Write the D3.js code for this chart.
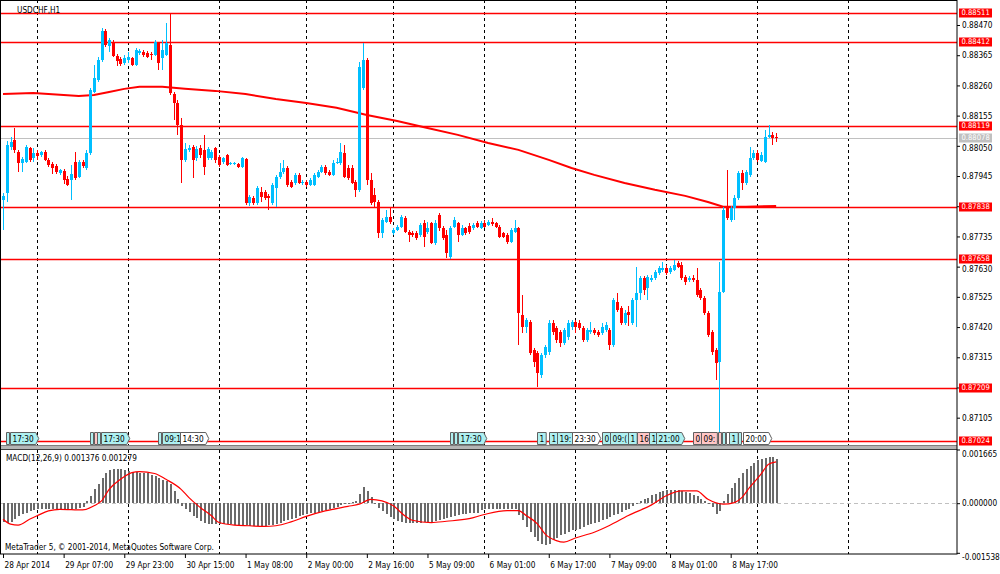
<!DOCTYPE html>
<html><head><meta charset="utf-8">
<script src="https://cdn.jsdelivr.net/npm/d3@7"></script>
<style>body{margin:0;background:#fff}svg{display:block;font-family:'DejaVu Sans Condensed','DejaVu Sans',sans-serif;font-stretch:condensed}</style>
</head><body><svg id="c" width="1000" height="574"></svg>
<script>
const symbolTitle = "USDCHF,H1";
const copyright = "MetaTrader 5, © 2001-2014, MetaQuotes Software Corp.";
const macdLabel = "MACD(12,26,9) 0.001376 0.001279";

const open = [0.87862,0.87886,0.88046,0.88070,0.88029,0.87990,0.87994,0.88042,0.88008,0.88025,
0.88018,0.88029,0.88001,0.87987,0.87980,0.87956,0.87963,0.87935,0.87931,0.87994,
0.87942,0.87994,0.87973,0.88025,0.88237,0.88279,0.88348,0.88449,0.88397,0.88411,
0.88362,0.88352,0.88338,0.88348,0.88355,0.88331,0.88373,0.88376,0.88373,0.88369,
0.88366,0.88408,0.88355,0.88366,0.88401,0.88230,0.88199,0.88123,0.88001,0.88036,
0.88046,0.88008,0.88042,0.88036,0.88008,0.88008,0.88042,0.88011,0.87994,0.88018,
0.87987,0.87987,0.87987,0.87976,0.88004,0.87851,0.87869,0.87851,0.87890,0.87890,
0.87876,0.87851,0.87904,0.87942,0.87959,0.87973,0.87924,0.87921,0.87949,0.87921,
0.87924,0.87914,0.87914,0.87942,0.87959,0.87976,0.87959,0.87949,0.87990,0.87990,
0.88025,0.87973,0.87973,0.87924,0.87897,0.88251,0.88348,0.87931,0.87879,0.87855,
0.87747,0.87785,0.87803,0.87747,0.87758,0.87768,0.87799,0.87751,0.87747,0.87747,
0.87740,0.87782,0.87751,0.87782,0.87712,0.87810,0.87764,0.87740,0.87664,0.87768,
0.87782,0.87740,0.87764,0.87771,0.87764,0.87782,0.87764,0.87782,0.87775,0.87785,
0.87782,0.87768,0.87747,0.87740,0.87716,0.87751,0.87764,0.87462,0.87420,0.87438,
0.87340,0.87330,0.87253,0.87323,0.87333,0.87434,0.87417,0.87403,0.87365,0.87386,
0.87420,0.87438,0.87434,0.87417,0.87375,0.87403,0.87410,0.87403,0.87399,0.87410,
0.87410,0.87358,0.87507,0.87486,0.87434,0.87473,0.87434,0.87514,0.87539,0.87591,
0.87556,0.87584,0.87591,0.87608,0.87619,0.87625,0.87612,0.87619,0.87643,0.87636,
0.87594,0.87584,0.87591,0.87584,0.87549,0.87521,0.87469,0.87403,0.87340,0.87299,
0.87542,0.87834,0.87792,0.87834,0.87869,0.87956,0.87921,0.87949,0.88008,0.88025,
0.87997,0.87994,0.88081,0.88088,0.88081];
const high = [0.87886,0.88067,0.88081,0.88112,0.88036,0.88011,0.88053,0.88046,0.88042,0.88036,
0.88032,0.88036,0.88008,0.87994,0.87987,0.87970,0.87970,0.87945,0.87983,0.88029,
0.88001,0.88001,0.88036,0.88251,0.88331,0.88359,0.88460,0.88456,0.88425,0.88418,
0.88369,0.88359,0.88366,0.88376,0.88359,0.88390,0.88387,0.88383,0.88380,0.88376,
0.88418,0.88411,0.88418,0.88477,0.88512,0.88237,0.88209,0.88147,0.88060,0.88053,
0.88053,0.88049,0.88053,0.88088,0.88046,0.88036,0.88046,0.88018,0.88011,0.88022,
0.87994,0.87994,0.87990,0.88011,0.88008,0.87879,0.87876,0.87910,0.87907,0.87897,
0.87883,0.87921,0.87949,0.87990,0.88001,0.87980,0.87931,0.87956,0.87956,0.87931,
0.87931,0.87938,0.87956,0.87966,0.87983,0.87983,0.87966,0.88001,0.88008,0.88060,
0.88053,0.87983,0.87983,0.87931,0.88341,0.88408,0.88355,0.87956,0.87904,0.87862,
0.87799,0.87827,0.87834,0.87764,0.87775,0.87810,0.87806,0.87758,0.87754,0.87754,
0.87782,0.87792,0.87785,0.87785,0.87792,0.87817,0.87771,0.87758,0.87771,0.87803,
0.87785,0.87775,0.87768,0.87782,0.87782,0.87789,0.87789,0.87792,0.87792,0.87799,
0.87785,0.87775,0.87751,0.87747,0.87764,0.87792,0.87768,0.87532,0.87452,0.87445,
0.87347,0.87337,0.87330,0.87358,0.87445,0.87445,0.87424,0.87410,0.87417,0.87445,
0.87445,0.87445,0.87445,0.87424,0.87417,0.87438,0.87417,0.87410,0.87434,0.87438,
0.87417,0.87521,0.87539,0.87493,0.87480,0.87493,0.87521,0.87629,0.87598,0.87598,
0.87601,0.87601,0.87619,0.87632,0.87646,0.87636,0.87632,0.87653,0.87650,0.87646,
0.87601,0.87598,0.87601,0.87625,0.87556,0.87528,0.87476,0.87410,0.87347,0.87646,
0.87838,0.87966,0.87841,0.87879,0.87963,0.87966,0.87966,0.88046,0.88036,0.88036,
0.88029,0.88105,0.88123,0.88098,0.88095];
const low = [0.87758,0.87855,0.88036,0.88025,0.87959,0.87959,0.87990,0.87994,0.87994,0.88001,
0.88011,0.87997,0.87976,0.87952,0.87952,0.87949,0.87917,0.87910,0.87862,0.87931,
0.87938,0.87973,0.87966,0.88018,0.88234,0.88272,0.88341,0.88394,0.88376,0.88359,
0.88328,0.88328,0.88331,0.88338,0.88328,0.88328,0.88366,0.88359,0.88355,0.88348,
0.88362,0.88314,0.88314,0.88362,0.88227,0.88140,0.88088,0.87921,0.87994,0.88029,
0.87938,0.87997,0.88008,0.87949,0.88001,0.88001,0.87990,0.87976,0.87987,0.87980,
0.87983,0.87983,0.87973,0.87973,0.87844,0.87841,0.87844,0.87844,0.87855,0.87862,
0.87827,0.87844,0.87838,0.87935,0.87952,0.87907,0.87904,0.87914,0.87917,0.87914,
0.87907,0.87910,0.87910,0.87938,0.87956,0.87949,0.87945,0.87945,0.87987,0.87983,
0.87938,0.87931,0.87917,0.87872,0.87890,0.88244,0.87914,0.87844,0.87838,0.87730,
0.87730,0.87782,0.87778,0.87740,0.87754,0.87764,0.87747,0.87716,0.87733,0.87723,
0.87733,0.87698,0.87744,0.87709,0.87705,0.87754,0.87723,0.87660,0.87657,0.87764,
0.87716,0.87737,0.87740,0.87744,0.87758,0.87764,0.87761,0.87764,0.87771,0.87771,
0.87764,0.87730,0.87730,0.87709,0.87712,0.87747,0.87358,0.87399,0.87399,0.87323,
0.87281,0.87212,0.87243,0.87313,0.87323,0.87393,0.87365,0.87351,0.87358,0.87375,
0.87410,0.87399,0.87410,0.87368,0.87368,0.87396,0.87393,0.87386,0.87393,0.87403,
0.87340,0.87351,0.87473,0.87427,0.87427,0.87424,0.87427,0.87420,0.87514,0.87532,
0.87514,0.87577,0.87584,0.87601,0.87612,0.87601,0.87605,0.87615,0.87625,0.87584,
0.87566,0.87577,0.87577,0.87525,0.87514,0.87462,0.87386,0.87323,0.87236,0.87024,
0.87539,0.87792,0.87785,0.87792,0.87862,0.87897,0.87914,0.87942,0.88001,0.87994,
0.87994,0.87990,0.88077,0.88053,0.88063];
const close = [0.87876,0.88053,0.88063,0.88036,0.87990,0.88004,0.88046,0.88001,0.88025,0.88015,
0.88029,0.88001,0.87983,0.87973,0.87959,0.87966,0.87931,0.87914,0.87952,0.87938,
0.87994,0.87980,0.88025,0.88244,0.88286,0.88348,0.88449,0.88401,0.88418,0.88362,
0.88345,0.88335,0.88355,0.88359,0.88331,0.88383,0.88380,0.88366,0.88359,0.88366,
0.88411,0.88338,0.88383,0.88408,0.88234,0.88199,0.88123,0.88001,0.88039,0.88042,
0.88001,0.88039,0.88018,0.87976,0.88039,0.88029,0.88001,0.87983,0.88008,0.87983,
0.87990,0.87990,0.87976,0.88008,0.87851,0.87872,0.87851,0.87904,0.87872,0.87869,
0.87869,0.87914,0.87942,0.87959,0.87973,0.87914,0.87907,0.87949,0.87921,0.87924,
0.87914,0.87931,0.87949,0.87959,0.87976,0.87956,0.87949,0.87990,0.87994,0.88029,
0.87942,0.87938,0.87921,0.87897,0.88324,0.88348,0.87931,0.87851,0.87855,0.87747,
0.87792,0.87803,0.87785,0.87758,0.87768,0.87803,0.87751,0.87740,0.87740,0.87730,
0.87775,0.87733,0.87764,0.87712,0.87782,0.87764,0.87730,0.87678,0.87764,0.87792,
0.87740,0.87764,0.87747,0.87751,0.87775,0.87768,0.87782,0.87768,0.87785,0.87778,
0.87768,0.87733,0.87733,0.87716,0.87758,0.87764,0.87469,0.87420,0.87445,0.87330,
0.87299,0.87260,0.87323,0.87351,0.87434,0.87403,0.87375,0.87365,0.87410,0.87434,
0.87438,0.87420,0.87417,0.87375,0.87410,0.87410,0.87399,0.87393,0.87420,0.87427,
0.87358,0.87514,0.87480,0.87434,0.87469,0.87462,0.87514,0.87539,0.87591,0.87549,
0.87594,0.87591,0.87612,0.87625,0.87625,0.87608,0.87625,0.87636,0.87629,0.87591,
0.87577,0.87591,0.87584,0.87532,0.87521,0.87469,0.87393,0.87333,0.87295,0.87542,
0.87827,0.87799,0.87834,0.87869,0.87956,0.87921,0.87959,0.88008,0.88025,0.88001,
0.88018,0.88081,0.88088,0.88077,0.88078];

const maBars = [0,8,16,20,24,28,32,36,42,48,56,64,72,80,88,96,104,112,120,128,136,144,150,156,164,172,180,186,190,196,204];
const maValues = [0.88230,0.88234,0.88227,0.88223,0.88227,0.88237,0.88248,0.88255,0.88255,0.88248,0.88241,0.88230,0.88213,0.88199,0.88182,0.88157,0.88136,0.88112,0.88088,0.88060,0.88036,0.88001,0.87973,0.87949,0.87921,0.87897,0.87876,0.87855,0.87838,0.87838,0.87841];

const macdHist = [-0.000589,-0.000605,-0.000589,-0.000496,-0.000403,-0.000341,-0.000295,-0.000248,-0.000217,-0.000186,
-0.000171,-0.000171,-0.000171,-0.000171,-0.000171,-0.000171,-0.000171,-0.000171,-0.000171,-0.000171,
-0.000155,-0.000124,0.000062,0.000217,0.000434,0.000589,0.000775,0.000930,0.001023,0.001054,
0.001054,0.001054,0.001039,0.000992,0.000961,0.000961,0.000946,0.000946,0.000930,0.000868,
0.000837,0.000775,0.000713,0.000682,0.000589,0.000372,0.000124,-0.000093,-0.000186,-0.000279,
-0.000388,-0.000465,-0.000543,-0.000620,-0.000651,-0.000651,-0.000651,-0.000651,-0.000651,-0.000651,
-0.000651,-0.000667,-0.000667,-0.000682,-0.000682,-0.000713,-0.000713,-0.000713,-0.000713,-0.000698,
-0.000682,-0.000682,-0.000651,-0.000605,-0.000558,-0.000512,-0.000481,-0.000450,-0.000403,-0.000372,
-0.000341,-0.000310,-0.000295,-0.000264,-0.000233,-0.000202,-0.000171,-0.000140,-0.000109,-0.000062,
-0.000031,0.000016,0.000047,0.000062,0.000279,0.000512,0.000372,0.000202,-0.000031,-0.000140,
-0.000248,-0.000341,-0.000434,-0.000496,-0.000558,-0.000589,-0.000605,-0.000620,-0.000620,-0.000620,
-0.000605,-0.000589,-0.000589,-0.000574,-0.000543,-0.000527,-0.000496,-0.000465,-0.000434,-0.000403,
-0.000372,-0.000341,-0.000326,-0.000310,-0.000310,-0.000295,-0.000217,-0.000186,-0.000186,-0.000186,
-0.000186,-0.000186,-0.000186,-0.000186,-0.000186,-0.000186,-0.000372,-0.000527,-0.000744,-0.000899,
-0.001054,-0.001178,-0.001262,-0.001311,-0.001262,-0.001156,-0.001076,-0.000992,-0.000952,-0.000899,
-0.000846,-0.000846,-0.000806,-0.000744,-0.000691,-0.000642,-0.000620,-0.000589,-0.000536,-0.000484,
-0.000434,-0.000381,-0.000332,-0.000279,-0.000226,-0.000170,-0.000093,-0.000016,0.000062,0.000124,
0.000171,0.000248,0.000295,0.000341,0.000388,0.000403,0.000419,0.000419,0.000403,0.000388,
0.000341,0.000310,0.000264,0.000217,0.000140,0.000078,-0.000031,-0.000109,-0.000341,-0.000248,
0.000078,0.000279,0.000481,0.000636,0.000791,0.000946,0.001054,0.001163,0.001256,0.001333,
0.001380,0.001411,0.001426,0.001426,0.001376];

const signalBars = [0,2,4,7,9,12,15,21,24,26,28,31,34,36,40,43,47,49,52,55,57,61,65,69,72,76,80,85,91,94,97,100,103,106,108,113,117,123,127,133,136,138,141,143,146,148,151,156,160,165,171,175,179,183,186,190,193,195,197,200,202,204];
const signalValues = [-0.00050,-0.00065,-0.00068,-0.00050,-0.00039,-0.00024,-0.00019,-0.00021,-0.00008,0.00007,0.00043,0.00074,0.00095,0.00098,0.00092,0.00074,0.00043,0.00018,-0.00013,-0.00039,-0.00060,-0.00068,-0.00070,-0.00072,-0.00070,-0.00058,-0.00041,-0.00024,-0.00010,-0.00003,0.00012,0.00007,-0.00008,-0.00039,-0.00053,-0.00060,-0.00056,-0.00048,-0.00035,-0.00023,-0.00023,-0.00038,-0.00064,-0.00095,-0.00116,-0.00121,-0.00108,-0.00090,-0.00069,-0.00038,-0.00006,0.00023,0.00038,0.00038,0.00012,-0.00003,0.00002,0.00018,0.00049,0.00090,0.00121,0.001279];

const priceTicks = [0.88470,0.88365,0.88260,0.88155,0.88050,0.87945,0.87840,0.87735,0.87630,0.87525,0.87420,0.87315,0.87210,0.87105];
const levels = [0.88511,0.88412,0.88119,0.87838,0.87658,0.87209,0.87024];
const lastPrice = 0.88078;
const macdTicks = [0.001665,0,-0.001538];
const macdTickLabels = ["0.001665","0.000000","-0.001538"];
const timeBars = [0,16,32,48,64,80,96,112,128,144,160,176,192];
const timeLabels = ["28 Apr 2014","29 Apr 07:00","29 Apr 23:00","30 Apr 15:00","1 May 08:00","2 May 00:00","2 May 16:00","5 May 09:00","6 May 01:00","6 May 17:00","7 May 09:00","8 May 01:00","8 May 17:00"];
const gridBars = [9,33,57,80,103,127,151,175,199,223];
const eventBars = [0.8,1.8,23,24,24.8,25.9,40.9,42,46.7,117.9,119,120,140.9,144,146.2,150.1,158,160.2,164.9,167.3,170.4,172.3,182,184.2,188.7,189.8,190.8,191.6,193.9,195.3];
const eventTexts = ["","17:30","","","","17:30","","09:1","14:30","","","17:30","1","1","19:","23:30","0","09:(","1","16","1","21:00","0","09:","","","","1","","20:00"];
const eventKinds = ["c","c","c","p","c","c","c","c","w","c","c","c","c","c","c","w","c","c","c","p","c","c","p","p","p","c","w","c","c","w"];

const FONT = "'DejaVu Sans Condensed','DejaVu Sans',sans-serif";
const FS = "8.2px";
const svg = d3.select("#c");
const W = 957, MAINB = 446, MTOP = 450, BOT = 554;
const x = d3.scaleLinear().domain([0, 250]).range([3, 3 + 250 * 3.79]);
const y = d3.scaleLinear().domain([0.870031, 0.885569]).range([447, 0]);
const ym = d3.scaleLinear().domain([-0.001538, 0.001665]).range([552.8, 449.5]);
const X = i => Math.round(x(i));
const BULL = "#00bfff", BEAR = "#ff0000";

svg.append("defs").append("clipPath").attr("id","cm").append("rect").attr("x",0).attr("y",0).attr("width",W).attr("height",MAINB);
svg.select("defs").append("clipPath").attr("id","cd").append("rect").attr("x",0).attr("y",MTOP).attr("width",W).attr("height",BOT-MTOP);

// grid
svg.append("g").selectAll("line").data(gridBars).join("line")
  .attr("x1", d => X(d) + 0.5).attr("x2", d => X(d) + 0.5).attr("y1", 0).attr("y2", BOT)
  .attr("stroke", "#000").attr("stroke-dasharray", "3,3").attr("stroke-width", 1);

const main = svg.append("g").attr("clip-path","url(#cm)");
main.append("line").attr("x1",0).attr("x2",W).attr("y1",Math.round(y(lastPrice))+0.5).attr("y2",Math.round(y(lastPrice))+0.5).attr("stroke","#c0c0c0");
main.append("g").selectAll("line").data(levels).join("line")
  .attr("x1",0).attr("x2",W).attr("y1",d=>Math.round(y(d))+0.5).attr("y2",d=>Math.round(y(d))+0.5)
  .attr("stroke","#ff0000").attr("stroke-width",1.4);

main.append("path").datum(maBars.map((b,i)=>[b,maValues[i]]))
  .attr("d", d3.line().x(d=>x(d[0])).y(d=>y(d[1])))
  .attr("fill","none").attr("stroke","#ff0000").attr("stroke-width",2);

const idx = d3.range(open.length);
const cg = main.append("g").attr("shape-rendering","crispEdges");
cg.selectAll("line").data(idx).join("line")
  .attr("x1", i => X(i) + 0.5).attr("x2", i => X(i) + 0.5)
  .attr("y1", i => y(high[i])).attr("y2", i => y(low[i]))
  .attr("stroke", i => close[i] >= open[i] ? BULL : BEAR);
cg.selectAll("rect").data(idx).join("rect")
  .attr("x", i => X(i) - 1).attr("width", 3)
  .attr("y", i => Math.min(y(open[i]), y(close[i])))
  .attr("height", i => Math.max(1, Math.abs(y(open[i]) - y(close[i]))))
  .attr("fill", i => close[i] >= open[i] ? BULL : BEAR);

// events
const eg = svg.append("g").attr("font-size", FS).attr("font-family", FONT);
const fills = {c:"#aef0f0", p:"#ffc6c6", w:"#ffffff"};
eventBars.forEach((b,i) => {
  const t = eventTexts[i];
  const x0 = Math.round(x(b)) + 0.5;
  const g = eg.append("g");
  const p = g.append("path");
  let w = 3;
  if (t) {
    const tx = g.append("text").attr("x", x0 + 2).attr("y", 441.5).text(t).attr("fill","#000");
    w = tx.node().getComputedTextLength() + 4;
  }
  const y0 = 432.5, y1 = 444.5;
  const arrow = t.length === 5;
  const d = arrow
    ? `M${x0},${y0}H${x0+w}L${x0+w+3},${(y0+y1)/2}L${x0+w},${y1}H${x0}Z`
    : `M${x0},${y0}H${x0+w}V${y1}H${x0}Z`;
  p.attr("d", d).attr("fill", fills[eventKinds[i]]).attr("stroke", "#606060").attr("stroke-width", 1);
});

// panel separator
svg.append("rect").attr("x",0).attr("y",446).attr("width",W).attr("height",3).attr("fill","#b4b4b4");
svg.append("line").attr("x1",0).attr("x2",W).attr("y1",445.5).attr("y2",445.5).attr("stroke","#808080");
svg.append("line").attr("x1",0).attr("x2",W).attr("y1",449.5).attr("y2",449.5).attr("stroke","#404040");

// MACD
const md = svg.append("g").attr("clip-path","url(#cd)");
md.append("line").attr("x1",0).attr("x2",W).attr("y1",Math.round(ym(0))+0.5).attr("y2",Math.round(ym(0))+0.5)
  .attr("stroke","#c0c0c0").attr("stroke-dasharray","4,3");
md.append("g").attr("shape-rendering","crispEdges").selectAll("rect").data(macdHist).join("rect")
  .attr("x",(d,i)=>X(i)).attr("width",2)
  .attr("y",d=>Math.min(ym(d),ym(0))).attr("height",d=>Math.max(1,Math.abs(ym(d)-ym(0))))
  .attr("fill","#6a6a6a");
md.append("path").datum(signalBars.map((b,i)=>[b,signalValues[i]]))
  .attr("d", d3.line().x(d=>x(d[0])).y(d=>ym(d[1])).curve(d3.curveMonotoneX))
  .attr("fill","none").attr("stroke","#ff0000").attr("stroke-width",1.2);

// frame
svg.append("rect").attr("x",0.5).attr("y",0.5).attr("width",W-0.5).attr("height",BOT-0.5)
  .attr("fill","none").attr("stroke","#000");

// texts
const tg = svg.append("g").attr("font-size",FS).attr("font-family",FONT).attr("fill","#000");
tg.append("text").attr("x",17).attr("y",13).text(symbolTitle);
tg.append("text").attr("x",6).attr("y",461).text(macdLabel);
tg.append("text").attr("x",5).attr("y",550).text(copyright);

// price axis: a tick label hidden behind a marker box (as in the terminal) is not drawn;
// one sitting just under a box is nudged down a little
const markers = levels.concat([lastPrice]);
const hidden = d => markers.some(m => Math.abs(m - d) < 0.00006);
const pa = svg.append("g").attr("transform",`translate(${W},0)`)
  .call(d3.axisRight(y).tickValues(priceTicks).tickSize(3).tickPadding(2)
    .tickFormat(d => hidden(d) ? "" : d3.format(".5f")(d)));
pa.select(".domain").remove();
pa.selectAll("text").attr("font-size",FS).attr("font-family",FONT).attr("fill","#000")
  .attr("y", d => markers.some(m => m > d + 0.00006 && m - d < 0.0003) ? 2.5 : 0);
pa.selectAll("text").filter(d => hidden(d)).remove();

// level labels
const ll = svg.append("g").attr("font-size","7.6px").attr("font-family",FONT);
levels.forEach(v => {
  const yy = Math.round(y(v));
  ll.append("rect").attr("x",959).attr("y",yy-4.5).attr("width",33).attr("height",9).attr("fill","#ff0000");
  ll.append("text").attr("x",961.5).attr("y",yy+2.3).attr("fill","#fff").text(d3.format(".5f")(v));
});
{
  const yy = Math.round(y(lastPrice));
  ll.append("rect").attr("x",959).attr("y",yy-4.5).attr("width",33).attr("height",9).attr("fill","#c0c0c0");
  ll.append("text").attr("x",961.5).attr("y",yy+2.3).attr("fill","#fff").text(d3.format(".5f")(lastPrice));
}

// macd axis
const labelShift = [4, 0, 4];
const ma = svg.append("g").attr("transform",`translate(${W},0)`)
  .call(d3.axisRight(ym).tickValues(macdTicks).tickSize(3).tickPadding(2).tickFormat((d,i)=>macdTickLabels[i]));
ma.select(".domain").remove();
ma.selectAll("text").attr("font-size",FS).attr("font-family",FONT).attr("fill","#000")
  .attr("y",(d,i)=>labelShift[i]);

// time axis
const ta = svg.append("g").attr("transform",`translate(0,${BOT})`)
  .call(d3.axisBottom(x).tickValues(timeBars).tickSize(4).tickPadding(4).tickFormat((d,i)=>timeLabels[i]));
ta.select(".domain").remove();
ta.selectAll("text").attr("font-size",FS).attr("font-family",FONT).attr("fill","#000")
  .attr("text-anchor","start").attr("dx","1");
</script></body></html>
